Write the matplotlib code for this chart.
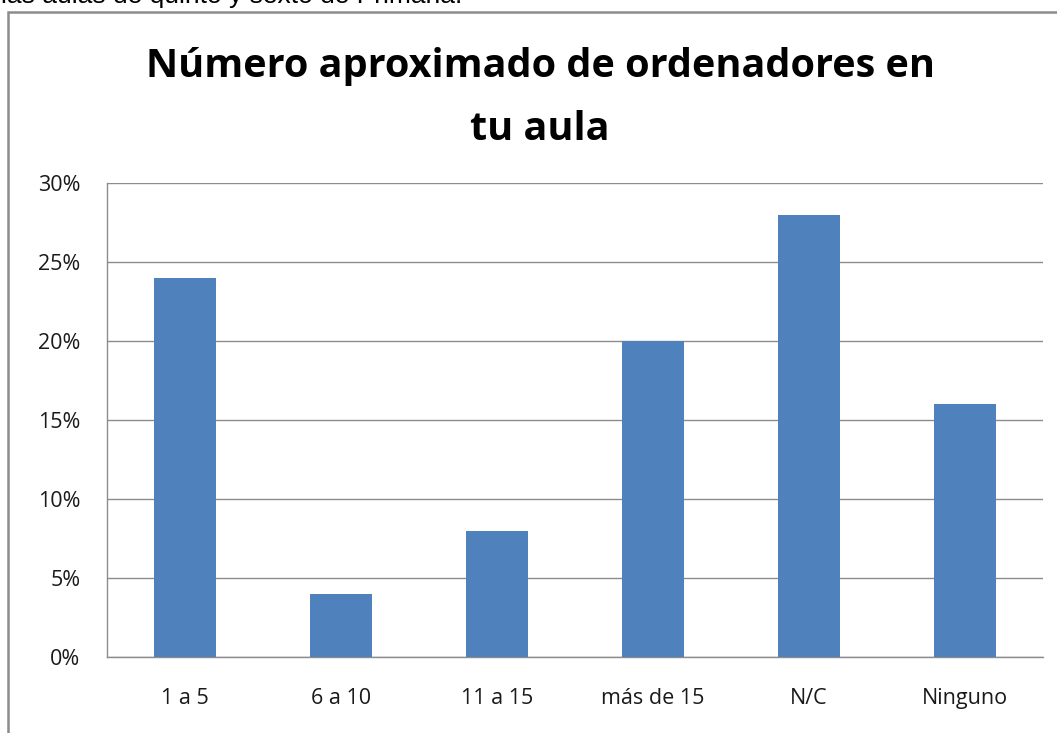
import matplotlib
matplotlib.use("Agg")
import matplotlib.pyplot as plt
from matplotlib.patches import Rectangle
from matplotlib.ticker import FuncFormatter, MultipleLocator

categories = ["1 a 5", "6 a 10", "11 a 15", "más de 15", "N/C", "Ninguno"]
values = [24, 4, 8, 20, 28, 16]
title_lines = ["Número aproximado de ordenadores en", "tu aula"]
top_text = "las aulas de quinto y sexto de Primaria."

W, H = 1057, 733
fig = plt.figure(figsize=(W / 100, H / 100), dpi=100)
fig.patch.set_facecolor("white")

# cut-off text at the very top
fig.text(1 / W, 1 - 3.5 / H, top_text, fontsize=19, family="Liberation Sans",
         color="black", va="baseline", ha="left")

# chart frame
fig.patches.append(Rectangle((7.5 / W, -0.1), 1.2, 1 - 11.5 / H + 0.1,
                             transform=fig.transFigure, fill=False,
                             edgecolor="#8c8c8c", linewidth=1.8, zorder=5))

ax = fig.add_axes([107 / W, 1 - 657 / H, (1043 - 107) / W, (657 - 183) / H])
x = range(len(categories))
ax.bar(x, values, width=0.4, color="#4f81bd", zorder=3)
ax.set_xlim(-0.5, len(categories) - 0.5)
ax.set_ylim(0, 30)
ax.yaxis.set_major_locator(MultipleLocator(5))
ax.yaxis.set_major_formatter(FuncFormatter(lambda v, p: f"{int(v)}%"))
ax.grid(axis="y", color="#8c8c8c", linewidth=1, zorder=0)
ax.set_xticks(list(x))
ax.set_xticklabels(categories)
for s in ["top", "right"]:
    ax.spines[s].set_visible(False)
for s in ["left", "bottom"]:
    ax.spines[s].set_color("#8c8c8c")
    ax.spines[s].set_linewidth(1)
ax.tick_params(axis="both", length=0, labelsize=15.5, colors="#1a1a1a")
ax.tick_params(axis="x", pad=22)
ax.tick_params(axis="y", pad=19)
for lab in ax.get_xticklabels() + ax.get_yticklabels():
    lab.set_family("Open Sans")

for txt, base in zip(title_lines, [77, 140]):
    fig.text(540 / W, 1 - base / H, txt, ha="center", va="baseline",
             fontsize=28.5, fontweight="bold", family="Open Sans",
             color="black")

fig.savefig("out.png", dpi=100, facecolor="white")
